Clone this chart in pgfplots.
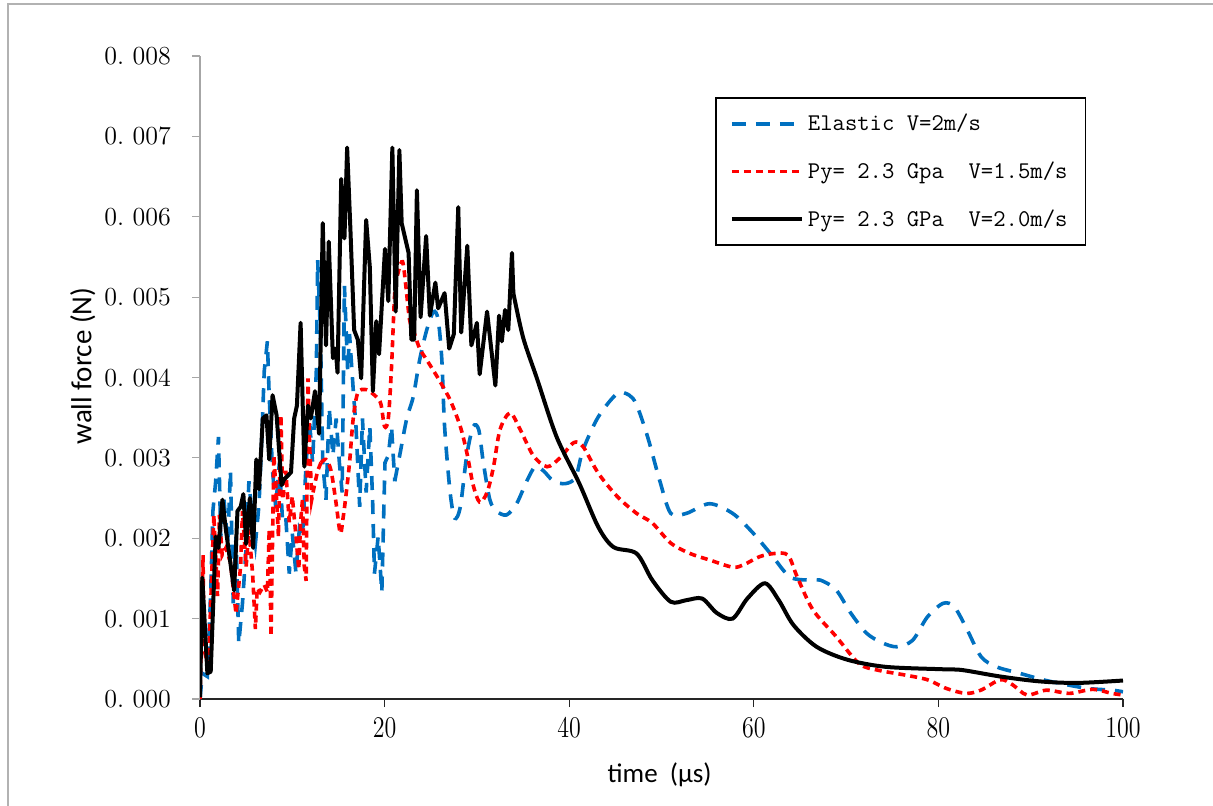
\documentclass[border=0pt]{standalone}
\usepackage{fontspec}
\usepackage{pgfplots}
\pgfplotsset{compat=1.18}
\newfontfamily\carlito{Carlito}
\definecolor{elastic}{HTML}{0070C0}
\definecolor{pyred}{HTML}{FF0000}

% force values below are in units of 0.001 N
\begin{document}
\begin{tikzpicture}
\useasboundingbox (0,0) rectangle (606.5pt,402.5pt);
\draw[gray!60, line width=0.9pt] (3.8pt,-2pt) -- (3.8pt,400.5pt) -- (610pt,400.5pt);
\begin{axis}[
    at={(100pt,53pt)}, anchor=south west,
    scale only axis,
    width=461.5pt, height=321.5pt,
    xmin=0, xmax=100, ymin=0, ymax=8,
    xtick={0,20,...,100},
    ytick={0,1,...,8},
    yticklabels={0.~000,0.~001,0.~002,0.~003,0.~004,0.~005,0.~006,0.~007,0.~008},
    axis lines=left,
    x axis line style={black!85, -, line width=0.8pt},
    y axis line style={gray!70, -, line width=0.8pt},
    tick align=outside,
    major tick length=4pt,
    xtick style={black!85, line width=0.6pt},
    ytick style={gray!70, line width=0.6pt},
    tick label style={font=\fontsize{13}{15}\selectfont},
    xticklabel style={font=\fontsize{13}{15}\selectfont, yscale=1.25, yshift=-1pt},
    yticklabel style={xshift=-7pt},
    xlabel={\carlito\fontsize{13.5}{15}\selectfont time\ \ (µs)},
    ylabel={\carlito\fontsize{14.5}{16}\selectfont wall force (N)},
    xlabel style={at={(axis description cs:0.498,-0.118)}, anchor=center},
    ylabel style={at={(axis description cs:-0.127,0.518)}, anchor=center, rotate=0},
    legend cell align=left,
    legend style={at={(rel axis cs:0.558,0.936)}, anchor=north west,
        draw=black, line width=0.9pt, fill=white,
        inner xsep=7pt, inner ysep=6pt, row sep=10pt,
        font=\fontsize{12}{14}\ttfamily},
    legend image code/.code={\draw[#1] (0pt,0pt) -- (35pt,0pt);},
]
% Elastic V=2m/s
\addplot[elastic, line width=1.8pt, dash pattern=on 7pt off 5pt] coordinates {
(0,0) (0.25,0.32) (0.8,0.28) (1.16,1.33) (1.4,2.34) (1.7,2.71) (2.0,3.26)
(2.25,2.02) (2.6,2.48) (3.0,1.93) (3.3,2.84) (3.6,1.19) (3.9,2.02) (4.2,0.69)
(4.6,1.19) (5.0,1.88) (5.3,2.71) (5.7,2.20) (6.0,1.93) (6.4,2.43) (6.7,3.26)
(6.96,4.08) (7.3,4.45) (7.5,3.76) (7.86,2.84) (8.2,2.39) (8.6,2.94) (8.95,2.20)
(9.3,2.25) (9.67,1.56) (10.0,2.06) (10.4,1.56) (10.76,2.11) (11.1,2.02)
(11.5,2.94) (11.85,3.49) (12.2,2.94) (12.6,4.08) (12.75,5.46) (13.05,4.54)
(13.3,2.94) (13.65,2.48) (14.0,3.62) (14.4,3.03) (14.75,3.49) (15.1,2.94)
(15.4,2.57) (15.65,5.14) (16.0,4.08) (16.2,4.54) (16.6,3.85) (16.9,3.39)
(17.3,2.39) (17.6,3.49) (18.0,2.57) (18.4,3.39) (18.7,2.48) (18.9,1.56)
(19.3,2.02) (19.7,1.33) (20.04,2.94) (20.4,3.03) (20.75,3.39) (21.1,2.71)
};
\addlegendentry{Elastic V=2m/s}
\addplot[elastic, line width=1.8pt, dash pattern=on 7pt off 5pt, smooth, tension=0.5, forget plot] coordinates {
(21.1,2.71) (21.7,3.07) (22.4,3.49) (23.1,3.76) (23.8,4.22) (24.56,4.59)
(25.3,4.82) (25.8,4.72) (26.2,4.22) (26.5,3.39) (27.1,2.57) (27.6,2.25)
(28.2,2.39) (28.9,3.03) (29.6,3.39) (30.2,3.35) (30.7,2.94) (31.4,2.48)
(32.1,2.34) (33.2,2.29) (34.3,2.43) (35.4,2.71) (36.3,2.89) (37.2,2.84)
(38.3,2.71) (39.6,2.68) (40.7,2.76) (41.5,3.10) (43.15,3.51) (45.2,3.80)
(46.5,3.78) (47.3,3.66) (48.5,3.26) (49.8,2.72) (51.0,2.31) (52.7,2.31)
(55.2,2.43) (57.7,2.31) (59.8,2.08) (61.8,1.81) (63.9,1.52) (66.0,1.48)
(67.2,1.48) (68.9,1.36) (70.5,1.07) (72.2,0.82) (73.9,0.70) (75.5,0.65)
(77.2,0.73) (78.8,1.02) (80.5,1.19) (81.7,1.15) (83.0,0.89) (84.6,0.53)
(86.3,0.40) (88.8,0.32) (91.3,0.24) (93.8,0.18) (96.3,0.13) (98.8,0.11) (100,0.09)
};
% Py = 2.3 Gpa, V=1.5m/s
\addplot[pyred, line width=1.8pt, dash pattern=on 3.5pt off 2.5pt] coordinates {
(0,0) (0.33,1.79) (0.43,0.64) (0.9,0.35) (1.5,2.29) (1.9,1.28) (2.1,2.29)
(2.4,1.79) (2.8,1.88) (3.3,1.70) (3.9,1.06) (4.4,1.65) (4.6,2.34) (5.0,1.65)
(5.3,2.11) (5.7,1.56) (6.0,0.87) (6.2,1.38) (6.5,1.33) (6.96,1.42) (7.3,1.33)
(7.5,2.11) (7.7,0.78) (8.0,3.03) (8.3,2.48) (8.5,2.02) (8.77,3.53) (8.95,2.48)
(9.3,2.84) (9.67,2.20) (10.0,2.52) (10.4,2.02) (10.7,1.61) (10.9,2.20)
(11.1,2.48) (11.3,1.65) (11.5,1.47) (11.7,3.99) (11.85,3.26) (12.1,2.48)
(12.4,2.66) (12.75,2.84) (13.1,2.94)
};
\addlegendentry{Py=~2.3~Gpa~~V=1.5m/s}
\addplot[pyred, line width=1.8pt, dash pattern=on 3.5pt off 2.5pt, smooth, tension=0.5, forget plot] coordinates {
(13.1,2.94) (13.65,2.98) (14.2,2.84) (14.75,2.43) (15.2,2.06) (15.5,2.25)
(15.8,2.52) (16.2,2.94) (16.6,3.49) (17.1,3.81) (18.0,3.85) (19.1,3.76)
(19.6,3.67) (20.0,3.39) (20.4,3.49) (20.75,4.13) (21.1,5.05) (21.5,5.32)
(21.95,5.44) (22.3,5.14) (22.7,4.72) (23.1,4.59) (23.8,4.36) (24.56,4.22)
(25.8,3.99) (27.1,3.72) (28.2,3.39) (28.9,3.07) (29.6,2.66) (30.3,2.45)
(31.1,2.57) (31.8,2.89) (32.5,3.35) (33.6,3.56) (34.7,3.35) (36.1,3.03)
(37.6,2.89) (39.0,3.00) (40.5,3.19) (41.5,3.14) (43.15,2.81) (45.2,2.52)
(47.3,2.31) (49.0,2.19) (51.0,1.94) (53.1,1.81) (55.2,1.73) (57.7,1.64)
(58.9,1.67) (60.6,1.77) (62.2,1.81) (63.7,1.79) (64.7,1.52) (66.4,1.11)
(68.9,0.78) (71.4,0.44) (73.4,0.36) (76.3,0.30) (78.8,0.24) (80.9,0.13)
(83.0,0.07) (84.6,0.11) (86.7,0.24) (88.0,0.18) (89.6,0.05) (91.7,0.11)
(94.2,0.07) (96.7,0.12) (98.8,0.07) (100,0.05)
};
% Py = 2.3 GPa, V=2.0m/s
\addplot[black, line width=2pt, line join=round] coordinates {
(0,0.02) (0.25,1.51) (0.8,0.32) (1.16,0.34) (1.7,2.02) (2.0,1.88) (2.43,2.48)
(2.8,2.11) (3.7,1.35) (4.06,2.34) (4.4,2.39) (4.7,2.55) (5.0,1.93) (5.4,2.50)
(5.76,1.88) (6.1,2.98) (6.4,2.61) (6.8,3.49) (7.2,3.53) (7.5,2.98) (7.86,3.78)
(8.3,3.53) (8.84,2.66) (9.1,2.73) (9.86,2.82) (10.2,3.49) (10.5,3.65)
(10.9,4.68) (11.3,2.89) (11.7,3.65) (12.0,3.49) (12.46,3.83) (12.9,3.30)
(13.3,5.92) (13.65,4.40) (13.95,5.69) (14.4,4.24) (14.7,4.36) (14.9,4.06)
(15.3,6.47) (15.65,5.73) (15.94,6.86) (16.3,5.83) (16.7,4.59) (17.1,4.47)
(17.46,3.99) (18.0,5.96) (18.4,5.37) (18.73,3.83) (19.1,4.70) (19.4,4.29)
(20.04,5.60) (20.4,4.95) (20.84,6.86) (21.2,4.82) (21.6,6.83) (21.85,5.92)
(22.6,5.55) (22.9,4.47) (23.2,4.47) (23.5,6.33) (23.9,4.75) (24.5,5.76)
(24.9,4.77) (25.5,5.18) (25.8,4.86) (26.5,5.05) (27.0,4.36) (27.5,4.54)
(27.98,6.12) (28.3,4.56) (28.96,5.64) (29.4,4.40) (30.0,4.68) (30.3,4.04)
(31.1,4.82) (32.0,3.90) (32.4,4.77) (32.7,4.45) (33.05,4.84) (33.4,4.59)
(33.8,5.55) (33.95,5.05)
};
\addlegendentry{Py=~2.3~GPa~~V=2.0m/s}
\addplot[black, line width=2pt, smooth, tension=0.5, forget plot] coordinates {
(33.95,5.05) (35.0,4.50) (36.5,3.99) (38.64,3.26) (41.1,2.68) (43.15,2.14)
(44.8,1.89) (47.3,1.81) (49.0,1.48) (51.0,1.21) (52.7,1.23) (54.4,1.25)
(56.0,1.07) (57.7,1.00) (59.3,1.25) (61.2,1.44) (62.7,1.23) (64.3,0.92)
(66.8,0.65) (70.1,0.49) (74.3,0.40) (80.5,0.37) (82.6,0.36) (86.7,0.28)
(90.9,0.22) (95.0,0.20) (100,0.23)
};
\end{axis}
\end{tikzpicture}
\end{document}
